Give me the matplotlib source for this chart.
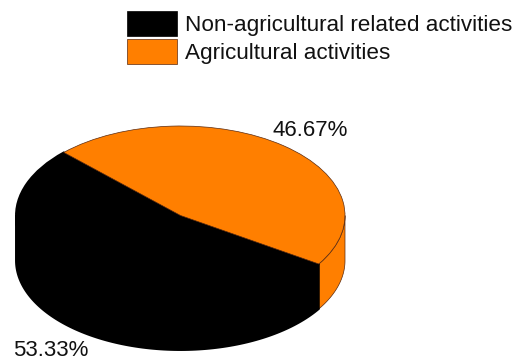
import numpy as np
import matplotlib
matplotlib.use("Agg")
import matplotlib.pyplot as plt
from matplotlib.patches import Patch

plt.rcParams['font.family'] = ['Liberation Sans', 'DejaVu Sans']

categories = ["Non-agricultural related activities", "Agricultural activities"]
shares = [53.33, 46.67]
share_labels = ["53.33%", "46.67%"]
colors = ["#000000", "#FF7F00"]
edge = "#5a2a10"

W, H = 514, 360
CX, CY, RX, RY, DEPTH = 180.5, 215.5, 164.5, 89.5, 45

fig = plt.figure(figsize=(W / 100, H / 100), dpi=100, facecolor="white")
ax = fig.add_axes([0, 0, 1, 1])

# orange wedge starts at this angle (counter-clockwise)
start_orange = -32.8
fractions = np.array(shares) / sum(shares)
drop = DEPTH / RY


def side(a0, a1, color, line, lw):
    t = np.radians(np.linspace(a0, a1, 120))
    x, y = np.cos(t), np.sin(t)
    ax.fill(np.r_[x, x[::-1]], np.r_[y, y[::-1] - drop],
            facecolor=color, edgecolor=line, linewidth=lw, zorder=1)


# visible lower rim: from 180 deg (left) to 360 deg (right)
side(start_orange, 0, colors[1], edge, 0.5)
side(-180, start_orange, colors[0], colors[0], 1.4)

wedges, _ = ax.pie([fractions[1], fractions[0]], colors=[colors[1], colors[0]],
                   startangle=start_orange, counterclock=True, radius=1,
                   wedgeprops=dict(linewidth=0.5, zorder=2))
wedges[0].set_edgecolor(edge)
wedges[1].set_edgecolor(colors[0])
wedges[1].set_linewidth(1.4)
wedges[0].set_zorder(2.5)

ax.set_aspect('auto')
ax.set_xlim((0 - CX) / RX, (W - CX) / RX)
ax.set_ylim((CY - H) / RY, CY / RY)
ax.axis('off')


def px(x, y):
    return (x - CX) / RX, (CY - y) / RY


ax.text(*px(310, 128), share_labels[1], fontsize=16, ha='center', va='center_baseline',
        color="#111111", zorder=3)
ax.text(*px(51, 347.5), share_labels[0], fontsize=16, ha='center', va='center_baseline',
        color="#111111", zorder=3)

handles = [Patch(facecolor=c, edgecolor=edge if c != "#000000" else "#000000", linewidth=0.5)
           for c in colors]
fs = 16.2
fpx = fs * 100 / 72
leg = fig.legend(handles, categories, loc='upper left',
                 bbox_to_anchor=(127 / W, 1 - 11 / H), bbox_transform=fig.transFigure,
                 frameon=False, fontsize=fs, borderpad=0, borderaxespad=0,
                 handlelength=50 / fpx, handleheight=1.3,
                 handletextpad=8 / fpx, labelspacing=3.5 / fpx)
for t in leg.get_texts():
    t.set_color("#111111")

fig.savefig("out.png", dpi=100, facecolor="white")
